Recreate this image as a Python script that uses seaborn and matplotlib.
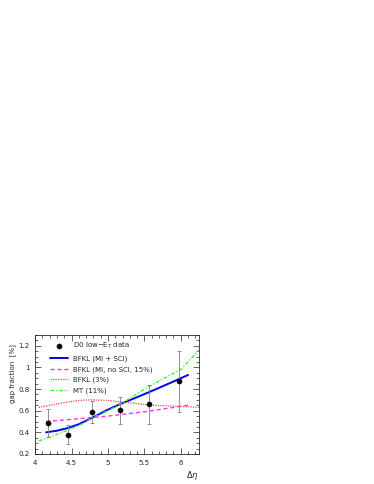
import numpy as np
from matplotlib import pyplot as plt
from matplotlib.ticker import MultipleLocator
import seaborn as sns

# D0 low-Et data
eta_data = [4.18, 4.45, 4.78, 5.16, 5.56, 5.98]
gap_data = [0.49, 0.38, 0.59, 0.61, 0.66, 0.87]
err_lo = [0.13, 0.09, 0.10, 0.13, 0.18, 0.28]
err_hi = [0.13, 0.09, 0.10, 0.12, 0.18, 0.28]

# BFKL (MI + SCI)
eta_mi = [4.15, 4.3, 4.45, 4.6, 4.8, 5.0, 5.2, 5.4, 5.56, 5.8, 6.0, 6.1]
gap_mi = [0.40, 0.415, 0.44, 0.475, 0.54, 0.61, 0.67, 0.725, 0.77, 0.84, 0.90, 0.93]

# BFKL (MI, no SCI, 15%)
eta_nosci = [4.15, 4.5, 5.0, 5.5, 6.0, 6.1]
gap_nosci = [0.50, 0.52, 0.55, 0.59, 0.64, 0.65]

# BFKL (3%)
eta_b3 = [4.05, 4.2, 4.4, 4.6, 4.75, 5.0, 5.2, 5.4, 5.6, 5.8, 6.0, 6.25]
gap_b3 = [0.63, 0.65, 0.675, 0.695, 0.70, 0.695, 0.68, 0.665, 0.65, 0.645, 0.64, 0.63]

# MT (11%)
eta_mt = [4.05, 4.25, 4.45, 4.65, 4.8, 5.0, 5.2, 5.5, 5.8, 6.0, 6.25]
gap_mt = [0.32, 0.37, 0.42, 0.48, 0.54, 0.60, 0.67, 0.80, 0.91, 0.98, 1.16]

sns.set_style("ticks")
plt.rcParams["font.family"] = ["DejaVu Sans"]
plt.rcParams["font.size"] = 5

fig = plt.figure(figsize=(3.74, 4.84), dpi=100)
ax = fig.add_axes([0.094, 0.062, 0.438, 0.246])

sns.lineplot(x=eta_mi, y=gap_mi, ax=ax, color="blue", lw=1.4, label="BFKL (MI + SCI)")
sns.lineplot(x=eta_nosci, y=gap_nosci, ax=ax, color="#ff33ff", lw=1.0,
             linestyle=(0, (3, 2)), label="BFKL (MI, no SCI, 15%)")
sns.lineplot(x=eta_b3, y=gap_b3, ax=ax, color="#ff4444", lw=0.9,
             linestyle=(0, (1, 1)), label="BFKL (3%)")
sns.lineplot(x=eta_mt, y=gap_mt, ax=ax, color="#33ee33", lw=0.9,
             linestyle=(0, (3, 1.5, 1, 1.5)), label="MT (11%)")
ax.errorbar(eta_data, gap_data, yerr=[err_lo, err_hi], fmt="none",
            ecolor="gray", elinewidth=0.6, capsize=1.5, capthick=0.6, zorder=4)
sns.scatterplot(x=eta_data, y=gap_data, ax=ax, color="black", s=14,
                edgecolor="black", zorder=5, label="D0 low$-$E$_T$ data")

handles, labels = ax.get_legend_handles_labels()
order = [4, 0, 1, 2, 3]
ax.legend([handles[i] for i in order], [labels[i] for i in order],
          loc="upper left", bbox_to_anchor=(0.05, 1.0), frameon=False,
          fontsize=5, handlelength=2.6, labelspacing=0.6, handletextpad=0.8)

ax.set_xlim(4, 6.25)
ax.set_ylim(0.2, 1.3)
ax.set_xticks([4, 4.5, 5, 5.5, 6], ["4", "4.5", "5", "5.5", "6"])
ax.set_yticks([0.2, 0.4, 0.6, 0.8, 1.0, 1.2], ["0.2", "0.4", "0.6", "0.8", "1", "1.2"])
ax.xaxis.set_minor_locator(MultipleLocator(0.1))
ax.yaxis.set_minor_locator(MultipleLocator(0.05))
ax.tick_params(which="both", direction="in", top=True, right=True, width=0.5, labelsize=5, pad=4)
ax.tick_params(which="major", length=4)
ax.tick_params(which="minor", length=2)
for s in ax.spines.values():
    s.set_linewidth(0.6)

ax.set_xlabel(r"$\Delta\eta$", fontsize=6)
ax.xaxis.set_label_coords(1.0, -0.13)
ax.xaxis.label.set_horizontalalignment("right")
ax.set_ylabel("gap fraction  [%]", fontsize=5)
ax.yaxis.set_label_coords(-0.115, 0.92)
ax.yaxis.label.set_horizontalalignment("right")
ax.yaxis.label.set_verticalalignment("bottom")

fig.savefig("out.png", dpi=100)
